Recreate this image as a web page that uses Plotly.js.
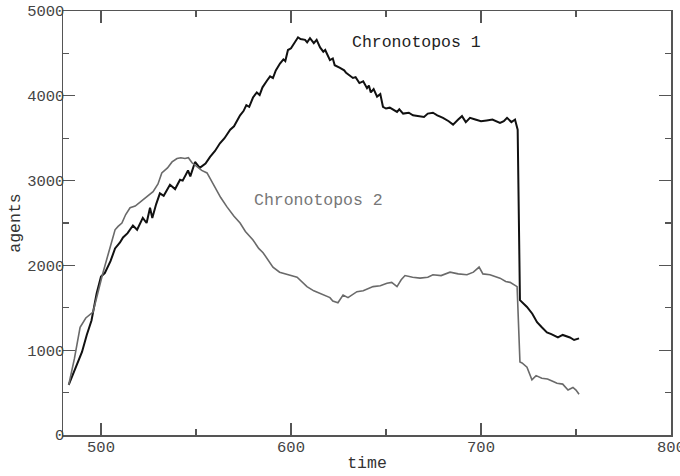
<!DOCTYPE html>
<html>
<head>
<meta charset="utf-8">
<script src="https://cdn.plot.ly/plotly-3.0.1.min.js"></script>
<style>html,body{margin:0;padding:0;background:#fff;}#chart{width:680px;height:476px;}</style>
</head>
<body>
<div id="chart"></div>
<script>
// Chronotopos 1 (black)
const time1 = [483, 487, 490, 492.5, 495, 497.7, 500, 502, 505, 507.4, 510, 511.6, 514, 516.8, 519, 522, 524, 525.8, 527, 529, 531, 533, 536.3, 539, 541.6, 543, 545.8, 547, 549.5, 552, 555, 557.4, 560, 562.6, 565, 568, 570, 573.2, 575, 576.5, 578, 580, 582, 583.5, 585, 587.4, 589, 590.5, 592, 594.2, 596, 597, 598.4, 600, 601, 603.7, 605, 607.4, 608.5, 610, 612, 613.5, 615.3, 617, 618, 620.5, 622, 623, 625.8, 628, 629, 632.6, 634, 636, 638, 640, 641, 642, 643.5, 645.3, 647, 648.4, 650, 652, 655.8, 657, 659, 662, 664.2, 667, 670, 672, 674.7, 677, 680, 683, 685.3, 688, 690, 692, 694.2, 697, 700, 703, 706, 710, 712, 713.7, 716, 717.9, 719.3, 720.5, 722, 724.2, 727, 729.5, 732, 734.7, 737, 740.5, 743, 746.8, 749, 751.6];
const agents1 = [590, 800, 980, 1180, 1350, 1670, 1870, 1910, 2050, 2200, 2270, 2330, 2380, 2470, 2420, 2560, 2500, 2680, 2560, 2720, 2850, 2820, 2950, 2900, 3010, 3000, 3120, 3050, 3220, 3150, 3200, 3280, 3350, 3440, 3500, 3600, 3640, 3770, 3820, 3890, 3870, 3980, 4040, 4010, 4100, 4180, 4230, 4210, 4300, 4380, 4430, 4410, 4540, 4560, 4600, 4690, 4670, 4660, 4630, 4680, 4620, 4660, 4570, 4520, 4540, 4420, 4440, 4360, 4330, 4300, 4270, 4210, 4220, 4150, 4170, 4090, 4120, 4040, 4080, 3990, 4020, 3870, 3850, 3860, 3810, 3840, 3790, 3800, 3770, 3760, 3750, 3790, 3800, 3770, 3740, 3700, 3660, 3720, 3760, 3690, 3740, 3720, 3700, 3710, 3720, 3680, 3700, 3740, 3690, 3720, 3600, 1590, 1560, 1510, 1430, 1330, 1270, 1210, 1190, 1150, 1180, 1150, 1120, 1140];

// Chronotopos 2 (grey)
const time2 = [483, 486, 489, 492, 495.8, 498, 501, 504, 507.4, 509, 511, 513, 515.3, 518, 522, 525, 527.4, 530, 532, 535, 537.4, 540, 542, 544.2, 546, 547.9, 551, 553, 555.8, 558, 561, 563, 566.3, 570, 573.2, 576, 580, 583, 585.3, 588, 590.5, 594, 597.9, 600, 603.2, 606, 608.4, 612, 615.3, 618, 620.5, 622, 624.7, 627.4, 630, 634.7, 638, 643.2, 647, 650.5, 653, 655.8, 658, 660, 664, 667.9, 672, 674.7, 679, 683.7, 688, 692.6, 696, 699, 701, 704.7, 707, 710, 713, 715.3, 719, 720.5, 721.6, 724.2, 726.8, 729, 732, 735, 738, 740, 743, 745.8, 748.4, 750, 751.6];
const agents2 = [590, 900, 1270, 1380, 1450, 1650, 1910, 2150, 2420, 2460, 2500, 2600, 2680, 2700, 2770, 2820, 2870, 2960, 3090, 3150, 3220, 3260, 3270, 3260, 3270, 3210, 3150, 3120, 3090, 3000, 2890, 2800, 2690, 2580, 2500, 2400, 2300, 2200, 2150, 2060, 1980, 1920, 1890, 1880, 1860, 1800, 1750, 1700, 1670, 1640, 1620, 1580, 1560, 1650, 1620, 1690, 1700, 1750, 1760, 1790, 1800, 1750, 1830, 1880, 1860, 1850, 1860, 1890, 1880, 1920, 1900, 1890, 1920, 1980, 1900, 1890, 1870, 1850, 1810, 1800, 1750, 860, 850, 800, 650, 700, 670, 660, 630, 610, 600, 530, 560, 530, 480];

const xTicks = [500, 600, 700, 800];
const yTicks = [0, 1000, 2000, 3000, 4000, 5000];
const seriesNames = ['Chronotopos 1', 'Chronotopos 2'];

const mono = 'Liberation Mono, Courier New, monospace';

const traces = [
  {x: time1, y: agents1, type: 'scatter', mode: 'lines', name: seriesNames[0],
   line: {color: '#111111', width: 2}},
  {x: time2, y: agents2, type: 'scatter', mode: 'lines', name: seriesNames[1],
   line: {color: '#6a6a6a', width: 1.6}}
];

const axisCommon = {
  showgrid: false, zeroline: false, showline: true, linecolor: '#555', linewidth: 1.5,
  mirror: 'allticks', ticks: 'inside', ticklen: 12, tickwidth: 1.2, tickcolor: '#555',
  tickfont: {family: mono, size: 15.5, color: '#444'},
  ticklabeloverflow: 'allow',
  minor: {ticks: 'inside', ticklen: 6, tickwidth: 1.2, tickcolor: '#555'}
};

const layout = {
  width: 680, height: 476,
  margin: {l: 63, r: 9, t: 11, b: 41},
  paper_bgcolor: '#fff', plot_bgcolor: '#fff',
  showlegend: false,
  xaxis: Object.assign({}, axisCommon, {
    range: [480, 800], tickvals: xTicks, ticktext: xTicks.map(String),
    ticklabelstandoff: -3,
    minor: Object.assign({}, axisCommon.minor, {tickvals: [550, 650, 750]}),
    title: {text: 'time', font: {family: mono, size: 16.5, color: '#333'}, standoff: 0}
  }),
  yaxis: Object.assign({}, axisCommon, {
    range: [0, 5000], tickvals: yTicks, ticktext: yTicks.map(String),
    ticklabelstandoff: -6,
    minor: Object.assign({}, axisCommon.minor, {tickvals: [500, 1500, 2500, 3500, 4500]}),
    title: {text: 'agents', font: {family: mono, size: 16.5, color: '#333'}, standoff: 2}
  }),
  annotations: [
    {x: 631, y: 4633, xref: 'x', yref: 'y', text: seriesNames[0], showarrow: false,
     xanchor: 'left', yanchor: 'middle', font: {family: mono, size: 16.5, color: '#222'}},
    {x: 579.5, y: 2770, xref: 'x', yref: 'y', text: seriesNames[1], showarrow: false,
     xanchor: 'left', yanchor: 'middle', font: {family: mono, size: 16.5, color: '#777'}}
  ]
};

Plotly.newPlot('chart', traces, layout, {displayModeBar: false, staticPlot: true});
</script>
</body>
</html>
